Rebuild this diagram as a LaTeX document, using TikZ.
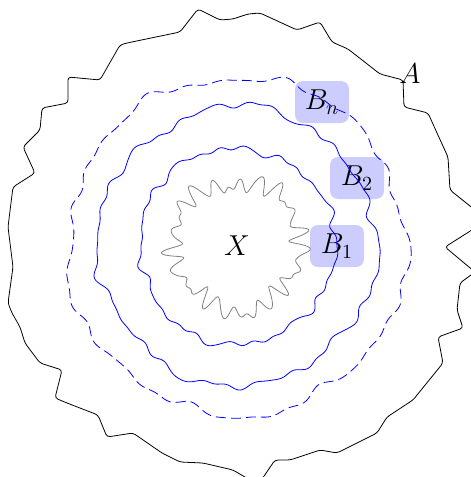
\documentclass[tikz,border=0pt]{standalone}
\begin{document}
\begin{tikzpicture}[x=0.5pt,y=-0.5pt,
  lbl/.style={fill=blue!20,rounded corners=4pt,minimum width=27pt,minimum height=21pt,inner sep=1pt,font=\Large}]
\useasboundingbox (0,0) rectangle (471,477);
\clip (0,0) rectangle (471,477);
% labels (boxes)
\node[lbl] (bn) at (322,102) {$B_n$};
\node[lbl] (b2) at (357,178) {$B_2$};
\node[lbl] (b1) at (337,246) {$B_1$};
\node[font=\Large,inner sep=0pt] (a) at (410,74) {$A$};
\node[font=\Large,inner sep=0pt] (x) at (237,246) {$X$};
% outer curve A
\draw[black,rounded corners=1.5pt] (198,9) -- (220,20) -- (233,19) -- (248,14) -- (260,13) -- (297,30) -- (320,22) -- (332,42) -- (348,49) -- (380,74) -- (403,80) -- (404,107) -- (428,113) -- (437,133) -- (448,157) -- (450,190) -- (475,210) -- (475,228) -- (445,247) -- (475,272) -- (460,283) -- (457,310) -- (463,328) -- (438,337) -- (443,363) -- (413,400) -- (387,417) -- (377,433) -- (337,453) -- (320,450) -- (290,460) -- (275,460) -- (260,482) -- (250,480) -- (233,470) -- (203,463) -- (180,462) -- (162,453) -- (133,433) -- (107,437) -- (98,415) -- (67,403) -- (55,398) -- (62,370) -- (40,363) -- (25,343) -- (20,327) -- (12,313) -- (8,303) -- (13,267) -- (10,243) -- (8,227) -- (13,187) -- (35,173) -- (23,147) -- (40,130) -- (42,108) -- (68,103) -- (68,77) -- (100,80) -- (120,45) -- (127,43) -- (180,32) -- cycle;
\begin{scope}[shift={(237,246)}]
% dashed curve (angle = 2x)
\draw[blue,dash pattern=on 5pt off 2.5pt] plot[domain=0:180,samples=720] ({2*\x}:{169+3*sin(10*\x+20)+2*sin(18*\x+70)+2*sin(30*\x+100)+1.5*sin(46*\x+10)+1*sin(62*\x+200)}) -- cycle;
% B2 curve
\draw[blue] plot[domain=0:180,samples=720] ({2*\x}:{139+2.5*sin(8*\x+60)+1.5*sin(14*\x+10)+2*sin(26*\x+40)+1.5*sin(38*\x+150)+1.3*sin(54*\x+250)+0.8*sin(74*\x+30)}) -- cycle;
% B1 curve
\draw[blue] plot[domain=0:180,samples=720] ({2*\x}:{98+1.5*sin(6*\x+120)+1.8*sin(22*\x+10)+1.5*sin(34*\x+80)+1.2*sin(46*\x+200)+0.8*sin(62*\x+300)}) -- cycle;
% X curve
\draw[gray,line join=round] plot[domain=0:180,samples=720] ({2*\x}:{64+6*sin(38*\x)+4*sin(50*\x+40)+2*sin(66*\x+100)+3*sin(10*\x+30)+2*sin(6*\x+200)}) -- cycle;
\end{scope}
\end{tikzpicture}
\end{document}
